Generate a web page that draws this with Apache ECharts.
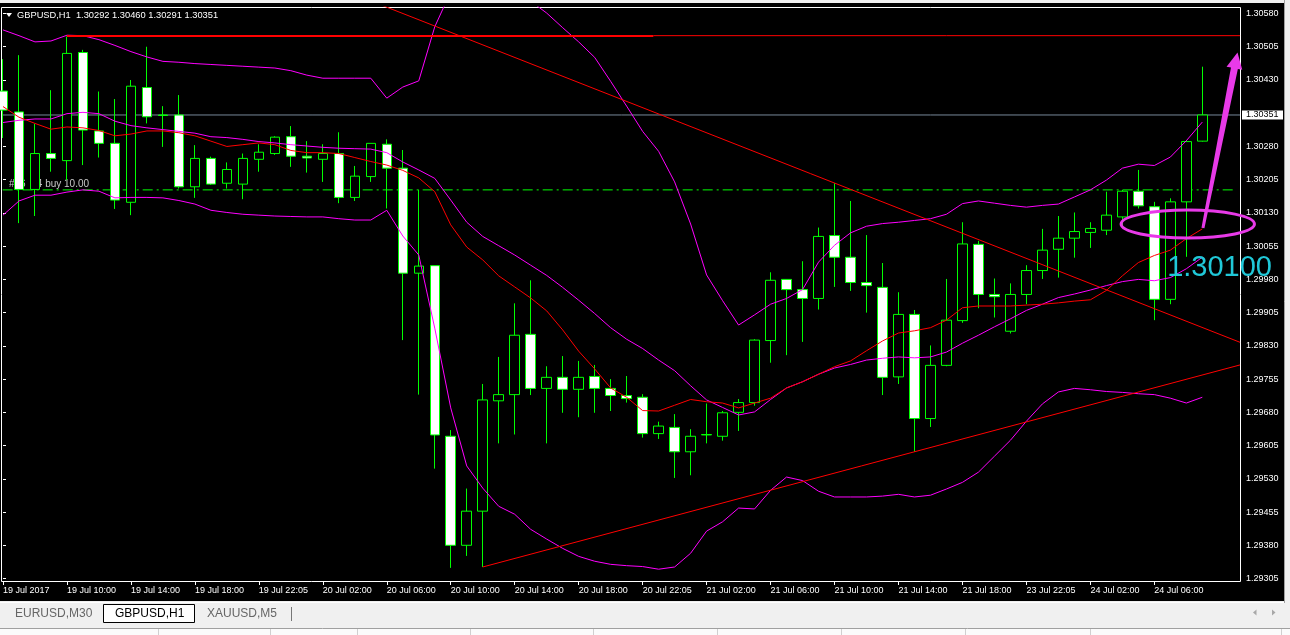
<!DOCTYPE html>
<html><head><meta charset="utf-8">
<script src="https://cdn.jsdelivr.net/npm/echarts@6/dist/echarts.min.js"></script>
<style>html,body{margin:0;padding:0;background:#f0f0f0;overflow:hidden}#c{width:1290px;height:635px}</style>
</head><body><div id="c"></div>
<script>
// ---- data (GBPUSD H1) ----
const opens = [1.30405,1.30358,1.30183,1.30264,1.30248,1.30492,1.30315,1.30287,1.30154,1.30413,1.30351,1.30351,1.30189,1.30253,1.30197,1.30195,1.30251,1.30264,1.30302,1.30258,1.30251,1.30264,1.30165,1.30212,1.30285,1.30231,1.29994,1.30011,1.29626,1.29380,1.29457,1.29706,1.29720,1.29856,1.29734,1.29759,1.29732,1.29761,1.29734,1.29718,1.29714,1.29632,1.29646,1.29591,1.29629,1.29626,1.29680,1.29702,1.29842,1.29980,1.29957,1.29937,1.30079,1.30030,1.29973,1.29962,1.29760,1.29901,1.29666,1.29786,1.29887,1.30059,1.29946,1.29863,1.29946,1.30000,1.30048,1.30073,1.30086,1.30091,1.30121,1.30179,1.30144,1.29935,1.30155,1.30292];
const closes = [1.30362,1.30183,1.30264,1.30253,1.30490,1.30317,1.30287,1.30159,1.30416,1.30347,1.30350,1.30189,1.30253,1.30195,1.30228,1.30253,1.30267,1.30301,1.30258,1.30254,1.30264,1.30165,1.30213,1.30287,1.30231,1.29994,1.30010,1.29629,1.29380,1.29457,1.29708,1.29720,1.29854,1.29734,1.29759,1.29732,1.29759,1.29734,1.29718,1.29711,1.29632,1.29649,1.29591,1.29626,1.29630,1.29679,1.29702,1.29843,1.29978,1.29957,1.29937,1.30077,1.30030,1.29973,1.29966,1.29759,1.29901,1.29666,1.29786,1.29888,1.30060,1.29946,1.29941,1.29946,1.30000,1.30046,1.30073,1.30088,1.30095,1.30125,1.30179,1.30146,1.29935,1.30155,1.30291,1.30351];
const lows = [1.30299,1.30107,1.30123,1.30223,1.30204,1.30238,1.30255,1.30139,1.30125,1.30332,1.30279,1.30185,1.30164,1.30193,1.30185,1.30161,1.30223,1.30261,1.30234,1.30221,1.30200,1.30152,1.30157,1.30200,1.30140,1.29843,1.29720,1.29553,1.29329,1.29356,1.29331,1.29610,1.29630,1.29719,1.29610,1.29679,1.29669,1.29679,1.29683,1.29702,1.29623,1.29620,1.29532,1.29538,1.29610,1.29616,1.29638,1.29695,1.29792,1.29809,1.29839,1.29912,1.29963,1.29954,1.29905,1.29719,1.29744,1.29591,1.29647,1.29784,1.29882,1.29915,1.29894,1.29858,1.29924,1.29981,1.29984,1.30029,1.30051,1.30080,1.30100,1.30140,1.29888,1.29924,1.30031,1.30291];
const highs = [1.30477,1.30486,1.30331,1.30407,1.30528,1.30498,1.30404,1.30387,1.30430,1.30505,1.30371,1.30396,1.30283,1.30257,1.30244,1.30264,1.30285,1.30303,1.30326,1.30292,1.30285,1.30312,1.30236,1.30287,1.30296,1.30272,1.30182,1.30011,1.29640,1.29508,1.29744,1.29805,1.29926,1.29978,1.29784,1.29807,1.29796,1.29787,1.29755,1.29762,1.29721,1.29659,1.29676,1.29642,1.29700,1.29683,1.29710,1.29845,1.29996,1.29980,1.30021,1.30097,1.30197,1.30157,1.30080,1.30017,1.29951,1.29911,1.29831,1.29981,1.30109,1.30067,1.29982,1.29971,1.30012,1.30094,1.30123,1.30131,1.30109,1.30178,1.30182,1.30227,1.30155,1.30163,1.30294,1.30460];

const bbUpper = [1.30543,1.30530,1.30516,1.30518,1.30531,1.30530,1.30521,1.30508,1.30494,1.30482,1.30472,1.30470,1.30467,1.30465,1.30463,1.30461,1.30459,1.30457,1.30451,1.30441,1.30434,1.30434,1.30434,1.30434,1.30389,1.30414,1.30428,1.30550,1.30629,1.30660,1.30644,1.30644,1.30620,1.30608,1.30581,1.30548,1.30516,1.30481,1.30427,1.30371,1.30314,1.30269,1.30200,1.30105,1.29990,1.29932,1.29877,1.29900,1.29924,1.29937,1.29957,1.30019,1.30057,1.30085,1.30100,1.30106,1.30109,1.30113,1.30117,1.30127,1.30151,1.30157,1.30152,1.30147,1.30143,1.30147,1.30150,1.30166,1.30182,1.30204,1.30231,1.30240,1.30237,1.30256,1.30293,1.30335];
const bbMiddle = [1.30334,1.30339,1.30342,1.30342,1.30354,1.30357,1.30354,1.30337,1.30327,1.30322,1.30318,1.30314,1.30310,1.30302,1.30300,1.30296,1.30291,1.30288,1.30284,1.30281,1.30278,1.30276,1.30275,1.30274,1.30266,1.30245,1.30227,1.30208,1.30159,1.30109,1.30077,1.30056,1.30035,1.30012,1.29989,1.29962,1.29933,1.29903,1.29871,1.29845,1.29824,1.29798,1.29774,1.29740,1.29708,1.29691,1.29674,1.29681,1.29709,1.29735,1.29749,1.29766,1.29780,1.29788,1.29798,1.29802,1.29805,1.29803,1.29805,1.29816,1.29836,1.29854,1.29873,1.29891,1.29910,1.29924,1.29939,1.29947,1.29956,1.29966,1.29975,1.29980,1.29977,1.29984,1.30004,1.30030];
const bbLower = [1.30125,1.30157,1.30170,1.30170,1.30177,1.30182,1.30179,1.30164,1.30165,1.30165,1.30164,1.30158,1.30150,1.30136,1.30131,1.30127,1.30125,1.30123,1.30122,1.30121,1.30121,1.30117,1.30114,1.30114,1.30136,1.30078,1.30035,1.29870,1.29690,1.29559,1.29509,1.29468,1.29450,1.29416,1.29394,1.29373,1.29355,1.29344,1.29337,1.29334,1.29332,1.29326,1.29331,1.29362,1.29412,1.29433,1.29464,1.29462,1.29504,1.29534,1.29526,1.29502,1.29489,1.29489,1.29489,1.29491,1.29495,1.29489,1.29493,1.29507,1.29522,1.29545,1.29581,1.29617,1.29660,1.29699,1.29726,1.29734,1.29731,1.29727,1.29725,1.29722,1.29720,1.29712,1.29701,1.29714];
const maRed = [1.30370,1.30346,1.30332,1.30319,1.30324,1.30322,1.30316,1.30304,1.30308,1.30315,1.30315,1.30311,1.30304,1.30292,1.30280,1.30284,1.30288,1.30284,1.30271,1.30266,1.30266,1.30264,1.30255,1.30246,1.30238,1.30226,1.30209,1.30178,1.30103,1.30053,1.30024,1.29988,1.29963,1.29938,1.29909,1.29866,1.29818,1.29778,1.29735,1.29714,1.29684,1.29683,1.29696,1.29709,1.29704,1.29701,1.29690,1.29701,1.29712,1.29735,1.29749,1.29766,1.29783,1.29796,1.29819,1.29841,1.29859,1.29864,1.29871,1.29888,1.29916,1.29920,1.29920,1.29920,1.29922,1.29924,1.29927,1.29931,1.29934,1.29955,1.29988,1.30018,1.30034,1.30046,1.30072,1.30094];

const xTickBars = [0,4,8,12,16,20,24,28,32,36,40,44,48,52,56,60,64,68,72];
const xTickLabels = ['19 Jul 2017','19 Jul 10:00','19 Jul 14:00','19 Jul 18:00','19 Jul 22:05','20 Jul 02:00','20 Jul 06:00','20 Jul 10:00','20 Jul 14:00','20 Jul 18:00','20 Jul 22:05','21 Jul 02:00','21 Jul 06:00','21 Jul 10:00','21 Jul 14:00','21 Jul 18:00','23 Jul 22:05','24 Jul 02:00','24 Jul 06:00'];
const yTickValues = [1.30580,1.30505,1.30430,1.30280,1.30205,1.30130,1.30055,1.29980,1.29905,1.29830,1.29755,1.29680,1.29605,1.29530,1.29455,1.29380,1.29305];

const symbolTitle = 'GBPUSD,H1';
const bidPrice = 1.30351;
const orderPrice = 1.30182;
const orderText = '#76  14 buy 10.00';
const resistA = [[4,1.30529],[40.67,1.30529]];
const resistB = [[40.67,1.30530],[77.36,1.30530]];
const trendDown = [[20,1.30651],[77.36,1.29838]];
const trendUp = [[30,1.29331],[77.36,1.29787]];
const noteText = '1.30100';
const noteAnchor = [72.8, 1.30006];
const ellipseCenter = [74.09, 1.30105];
const ellipseRadius = [4.17, 0.000316];
const arrowFrom = [75.04, 1.30096];
const arrowTo = [77.2, 1.30492];
const tabs = ['EURUSD,M30','GBPUSD,H1','XAUUSD,M5'];

// ---- chart ----
const FONT = 'Liberation Sans, Arial, sans-serif';
const chart = echarts.init(document.getElementById('c'), null, {renderer:'canvas'});
const idx = opens.map((_, i) => i);
const xMin = -0.01875, xMax = 77.35625;
const yMin = 1.292994, yMax = 1.305947;
const pair = arr => arr.map((v, i) => [idx[i], v]);
const lineS = (name, data, color, width, z, type) => ({
  type:'line', name, data, symbol:'none', silent:true, z: z || 3,
  lineStyle:{color, width: width || 1, type: type || 'solid'}, clip:true, animation:false
});

chart.setOption({
  animation:false,
  backgroundColor:'transparent',
  grid:{left:2, top:7, right:50, bottom:54, show:false},
  xAxis:{
    type:'value', min:xMin, max:xMax,
    axisLine:{show:false}, splitLine:{show:false},
    axisTick:{show:true, customValues:xTickBars, length:4, lineStyle:{color:'#fff'}},
    axisLabel:{show:true, customValues:xTickBars, color:'#fff', fontFamily:FONT, fontSize:9,
      align:'left', margin:5,
      formatter: v => { const i = xTickBars.indexOf(Math.round(v)); return i >= 0 ? xTickLabels[i] : ''; }}
  },
  yAxis:{
    type:'value', position:'right', min:yMin, max:yMax,
    axisLine:{show:false}, splitLine:{show:false},
    axisTick:{show:true, customValues:yTickValues, length:3, lineStyle:{color:'#fff'}},
    axisLabel:{show:true, customValues:yTickValues, color:'#fff', fontFamily:FONT, fontSize:9, margin:6,
      formatter: v => v.toFixed(5)}
  },
  series:[
    lineS('bid', [[xMin, bidPrice], [xMax, bidPrice]], '#778899', 1, 1),
    lineS('order', [[xMin, orderPrice], [xMax - 0.3, orderPrice]], '#00ff00', 1, 1, [10,4,2,4]),
    {type:'candlestick', name:symbolTitle, z:2, barWidth:10,
      data: idx.map(i => [i, opens[i], closes[i], lows[i], highs[i]]),
      itemStyle:{color:'#000', color0:'#fff', borderColor:'#00ff00', borderColor0:'#00ff00', borderColorDoji:'#00ff00', borderWidth:1}},
    lineS('bbUpper', pair(bbUpper), '#ff00ff'),
    lineS('bbMiddle', pair(bbMiddle), '#ff00ff'),
    lineS('bbLower', pair(bbLower), '#ff00ff'),
    lineS('ma', pair(maRed), '#ff0000'),
    lineS('resistA', resistA, '#ff0000', 2),
    lineS('resistB', resistB, '#ff0000', 1),
    lineS('trendDown', trendDown, '#ff0000', 1),
    lineS('trendUp', trendUp, '#ff0000', 1)
  ]
});

const px = p => chart.convertToPixel({gridIndex:0}, p);
const g = [];
// window background
g.push({type:'rect', z:-20, silent:true, shape:{x:0, y:3, width:1284, height:598}, style:{fill:'#000'}});
g.push({type:'rect', z:-20, silent:true, shape:{x:0, y:601, width:1290, height:34}, style:{fill:'#f0f0f0'}});
g.push({type:'line', z:-19, silent:true, shape:{x1:0, y1:602.5, x2:1284, y2:602.5}, style:{stroke:'#fff', lineWidth:1}});
g.push({type:'line', z:-19, silent:true, shape:{x1:1284.5, y1:0, x2:1284.5, y2:603}, style:{stroke:'#a0a0a0', lineWidth:1}});
g.push({type:'line', z:-19, silent:true, shape:{x1:0, y1:628.5, x2:1290, y2:628.5}, style:{stroke:'#a0a0a0', lineWidth:1}});
g.push({type:'rect', z:-19, silent:true, shape:{x:0, y:629, width:1290, height:6}, style:{fill:'#fbfbfb'}});
[158,270,357,470,593,717,841,965,1090,1281].forEach(x => g.push({type:'line', z:-18, silent:true, shape:{x1:x+0.5, y1:629, x2:x+0.5, y2:635}, style:{stroke:'#d0d0d0', lineWidth:1}}));
// plot frame
g.push({type:'rect', z:0, silent:true, shape:{x:1.5, y:7.5, width:1239, height:574}, style:{fill:null, stroke:'#fff', lineWidth:1}});
// bid price label
const bp = px([xMax, bidPrice]);
g.push({type:'rect', z:10, silent:true, shape:{x:1242, y:Math.round(bp[1])-4.5, width:41, height:9}, style:{fill:'#fff'}});
g.push({type:'text', z:11, silent:true, x:1246, y:Math.round(bp[1]), style:{text:bidPrice.toFixed(5), fill:'#000', font:'9px ' + FONT, verticalAlign:'middle', align:'left'}});
// header
g.push({type:'polygon', z:10, silent:true, shape:{points:[[6,13],[12,13],[9,17]]}, style:{fill:'#fff'}});
const last = opens.length - 1;
g.push({type:'text', z:10, silent:true, x:17, y:15, style:{
  text: symbolTitle + '  ' + [opens[last], highs[last], lows[last], closes[last]].map(v => v.toFixed(5)).join(' '),
  fill:'#fff', font:'9.3px ' + FONT, verticalAlign:'middle', align:'left'}});
// order label (behind candles)
const op = px([0, orderPrice]);
g.push({type:'text', z:1, silent:true, x:9, y:op[1]-6, style:{text:orderText, fill:'#c8c8c8', font:'10px ' + FONT, verticalAlign:'middle', align:'left'}});
// tabs
g.push({type:'rect', z:5, silent:true, shape:{x:103.5, y:604.5, width:91, height:18}, style:{fill:'#fff', stroke:'#000', lineWidth:1}});
const tabX = [15, 115, 207];
tabs.forEach((t, i) => g.push({type:'text', z:6, silent:true, x:tabX[i], y:614, style:{text:t, fill: i === 1 ? '#000' : '#666', font:'12px ' + FONT, verticalAlign:'middle', align:'left'}}));
g.push({type:'line', z:5, silent:true, shape:{x1:291.5, y1:607, x2:291.5, y2:621}, style:{stroke:'#777', lineWidth:1}});
g.push({type:'polygon', z:5, silent:true, shape:{points:[[1256.5,609.5],[1256.5,615.5],[1253,612.5]]}, style:{fill:'#a8a8a8'}});
g.push({type:'polygon', z:5, silent:true, shape:{points:[[1272,609.5],[1272,615.5],[1275.5,612.5]]}, style:{fill:'#a8a8a8'}});
// annotations
const ec = px(ellipseCenter);
const erx = px([ellipseCenter[0] + ellipseRadius[0], ellipseCenter[1]])[0] - ec[0];
const ery = px([ellipseCenter[0], ellipseCenter[1] - ellipseRadius[1]])[1] - ec[1];
g.push({type:'ellipse', z:20, silent:true, shape:{cx:ec[0], cy:ec[1], rx:erx, ry:ery}, style:{fill:null, stroke:'#e83ae8', lineWidth:3}});
const a0 = px(arrowFrom), a1 = px(arrowTo);
const dx = a1[0]-a0[0], dy = a1[1]-a0[1], L = Math.hypot(dx, dy);
const ux = dx/L, uy = dy/L, nx = -uy, ny = ux;
const P = (t, w) => [a0[0] + ux*t + nx*w, a0[1] + uy*t + ny*w];
const hl = 16;
g.push({type:'polygon', z:20, silent:true, shape:{points:[P(0,1.5), P(L-hl,3.5), P(L-hl,8), P(L,0), P(L-hl,-8), P(L-hl,-3.5), P(0,-1.5)]}, style:{fill:'#e83ae8'}});
const na = px(noteAnchor);
g.push({type:'text', z:20, silent:true, x:na[0], y:na[1], style:{text:noteText, fill:'#20c8d8', font:'29px ' + FONT, verticalAlign:'middle', align:'left'}});

chart.setOption({graphic:{elements:g}});
</script>
</body></html>
